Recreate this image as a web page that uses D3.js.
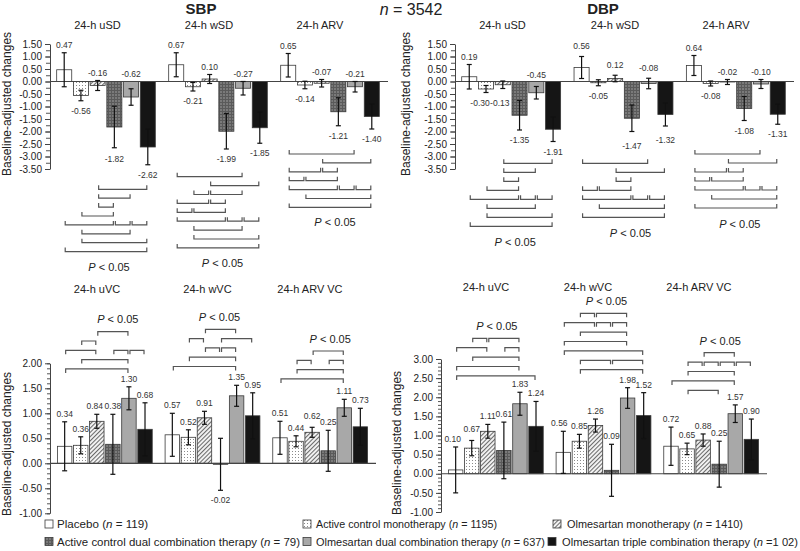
<!DOCTYPE html>
<html><head><meta charset="utf-8">
<script src="https://cdn.jsdelivr.net/npm/d3@7"></script>
<style>body{margin:0;background:#fff}svg{display:block;font-family:"Liberation Sans",Arial,sans-serif}</style>
</head><body>
<svg id="c" width="800" height="551"></svg>
<script>
// ---------------- DATA ----------------
const seriesNames = ["Placebo", "Active control monotherapy", "Olmesartan monotherapy",
  "Active control dual combination therapy", "Olmesartan dual combination therapy", "Olmesartan triple combination therapy"];
const seriesNText = [" = 119)", " = 1195)", " = 1410)", " = 79)", " = 637)", " =1 02)"];

const sdGroups = ["24-h uSD", "24-h wSD", "24-h ARV"];
const vcGroups = ["24-h uVC", "24-h wVC", "24-h ARV VC"];

const sbpValues = [[0.47, -0.56, -0.16, -1.82, -0.62, -2.62],
                   [0.67, -0.21, 0.10, -1.99, -0.27, -1.85],
                   [0.65, -0.14, -0.07, -1.21, -0.21, -1.40]];
const sbpErrors = [[0.68, 0.21, 0.20, 0.83, 0.33, 0.71],
                   [0.48, 0.17, 0.18, 0.71, 0.27, 0.62],
                   [0.47, 0.15, 0.15, 0.56, 0.21, 0.50]];
const dbpValues = [[0.19, -0.30, -0.13, -1.35, -0.45, -1.91],
                   [0.56, -0.05, 0.12, -1.47, -0.08, -1.32],
                   [0.64, -0.08, -0.02, -1.08, -0.10, -1.31]];
const dbpErrors = [[0.49, 0.14, 0.15, 0.59, 0.25, 0.49],
                   [0.44, 0.12, 0.13, 0.53, 0.21, 0.46],
                   [0.40, 0.10, 0.10, 0.48, 0.18, 0.40]];
const sbpVcValues = [[0.34, 0.36, 0.84, 0.38, 1.30, 0.68],
                     [0.57, 0.52, 0.91, -0.02, 1.35, 0.95],
                     [0.51, 0.44, 0.62, 0.25, 1.11, 0.73]];
const sbpVcErrors = [[0.49, 0.17, 0.14, 0.60, 0.23, 0.53],
                     [0.43, 0.15, 0.13, 0.52, 0.21, 0.46],
                     [0.33, 0.11, 0.10, 0.41, 0.17, 0.37]];
const dbpVcValues = [[0.10, 0.67, 1.11, 0.61, 1.83, 1.24],
                     [0.56, 0.85, 1.26, 0.09, 1.98, 1.52],
                     [0.72, 0.65, 0.88, 0.25, 1.57, 0.90]];
const dbpVcErrors = [[0.60, 0.20, 0.18, 0.74, 0.30, 0.65],
                     [0.55, 0.18, 0.17, 0.68, 0.27, 0.60],
                     [0.50, 0.15, 0.16, 0.60, 0.23, 0.53]];

const ticksSD = [1.5, 1, 0.5, 0, -0.5, -1, -1.5, -2, -2.5, -3, -3.5];
const ticksVcLeft = [2, 1.5, 1, 0.5, 0, -0.5, -1];
const ticksVcRight = [3, 2.5, 2, 1.5, 1, 0.5, 0, -0.5, -1];

// significance brackets: per group, rows (top to bottom) of [barA, barB] pairs
const sbpBrackets = [
  [[[2,5]], [[2,4]], [[2,3]], [[1,3]], [[0,3],[3,4],[4,5]], [[1,4]], [[1,5]], [[0,5]]],
  [[[0,4]], [[2,5]], [[1,2],[2,4]], [[0,2],[2,3]], [[0,1],[1,3]], [[0,3],[3,4],[4,5]], [[1,4]], [[1,5]], [[0,5]]],
  [[[0,4]], [[2,5]], [[0,2],[2,3]], [[0,1],[1,3]], [[0,3],[3,4],[4,5]], [[1,5]], [[0,5]]]
];
const dbpBrackets = [
  [[[2,5]], [[2,4]], [[2,3]], [[1,3]], [[0,3],[3,4],[4,5]], [[1,4]], [[1,5]], [[0,5]]],
  [[[0,4]], [[2,5]], [[2,3]], [[0,1],[1,3]], [[0,3],[3,4],[4,5]], [[1,5]], [[0,5]]],
  [[[0,4]], [[2,5]], [[0,2],[2,3]], [[0,1],[1,3]], [[0,3],[3,4],[4,5]], [[1,5]], [[0,5]]]
];
const sbpVcBrackets = [
  [[[2,4]], [[1,2]], [[0,2],[3,4],[4,5]], [[1,4]], [[0,4]]],
  [[[2,4]], [[1,2],[3,5]], [[2,3],[3,4]], [[1,4]], [[0,4]]],
  [[[2,4]], [[1,2],[3,4]], [[1,4]], [[0,4]]]
];
const dbpVcBrackets = [
  [[[1,2],[2,4]], [[0,2],[3,4]], [[1,4]], [[0,4]], [[0,5]]],
  [[[1,2],[2,4]], [[0,2],[2,3],[3,4]], [[1,4]], [[0,4]], [[0,5]], [[1,3],[3,5]], [[1,5]]],
  [[[2,4]], [[1,2],[2,3],[3,4],[4,5]], [[1,4]], [[0,4]], [[1,3]]]
];

// ---------------- LAYOUT ----------------
const svg = d3.select("#c");
const defs = svg.append("defs");
{
  const pd = defs.append("pattern").attr("id","pDots").attr("patternUnits","userSpaceOnUse").attr("width",3).attr("height",3);
  pd.append("rect").attr("width",3).attr("height",3).attr("fill","#fff");
  pd.append("rect").attr("x",1).attr("y",1).attr("width",1).attr("height",1).attr("fill","#8a8a8a");
  const ph = defs.append("pattern").attr("id","pHatch").attr("patternUnits","userSpaceOnUse").attr("width",3).attr("height",3).attr("patternTransform","rotate(45)");
  ph.append("rect").attr("width",3).attr("height",3).attr("fill","#f4f4f4");
  ph.append("line").attr("x1",0.5).attr("y1",0).attr("x2",0.5).attr("y2",3).attr("stroke","#6a6a6a").attr("stroke-width",1.1);
  const pg = defs.append("pattern").attr("id","pGrid").attr("patternUnits","userSpaceOnUse").attr("width",3).attr("height",3);
  pg.append("rect").attr("width",3).attr("height",3).attr("fill","#7a7a7a");
  pg.append("line").attr("x1",0).attr("y1",0.5).attr("x2",3).attr("y2",0.5).attr("stroke","#5a5a5a").attr("stroke-width",1);
  pg.append("line").attr("x1",0.5).attr("y1",0).attr("x2",0.5).attr("y2",3).attr("stroke","#5a5a5a").attr("stroke-width",1);
}
const fills = ["#ffffff", "url(#pDots)", "url(#pHatch)", "url(#pGrid)", "#a8a8a8", "#151515"];

const panels = [
  { groups: sdGroups, values: sbpValues, errors: sbpErrors, brackets: sbpBrackets, ticks: ticksSD,
    yDomain: [-3.5, 1.5], yRange: [169, 44], xRange: [50, 386], axisX: 50, minorStep: 0.25, minorLen: 4,
    bStart: [189.3, 176.7, 154], rowStep: 8.9, tick: -4, pDy: 19, pDx: [3, 4.5, 5],
    subDx: [-8.5, -9, -10], subY: 29, yTitleX: 11, yTitleY: 104,
    place: [["a","b","a","b","a","b"],["a","b","a","b","a","b"],["a","b","a","b","a","b"]],
    nudge: {"0-3": [0, 1.5], "0-4": [0, -7]} },
  { groups: sdGroups, values: dbpValues, errors: dbpErrors, brackets: dbpBrackets, ticks: ticksSD,
    yDomain: [-3.5, 1.5], yRange: [169, 44], xRange: [455, 792], axisX: 455, minorStep: 0.25, minorLen: 4,
    bStart: [163.3, 163.3, 154], rowStep: 9, tick: -4, pDy: 20, pDx: [4, 7, 4],
    subDx: [-8.7, -8.5, -9.8], subY: 29, yTitleX: 410, yTitleY: 104,
    place: [["a","b","b","b","a","b"],["a","b","a","b","a","b"],["a","b","a","b","a","b"]],
    nudge: {"0-1": [-6, 0.5], "0-2": [-3, 4.5], "0-4": [0, -3.8], "1-0": [0, -3], "1-2": [0, -2.5], "1-3": [0, 4], "1-4": [0, -2], "1-5": [0, 3.7]} },
  { groups: vcGroups, values: sbpVcValues, errors: sbpVcErrors, brackets: sbpVcBrackets, ticks: ticksVcLeft,
    yDomain: [-1, 2], yRange: [513.3, 363.3], xRange: [51, 374], axisX: 50, minorStep: 0.1, minorLen: 3,
    bStart: [331.7, 329.3, 351], rowStep: 9.3, tick: 4, pDy: -8.3, pDx: [13, 7, 10],
    subDx: [-7.8, -5, -10.2], subY: 292.5, yTitleX: 11, yTitleY: 444,
    place: [["a","a","a","a","a","a"],["a","a","a","b","a","a"],["a","a","a","a","a","a"]],
    nudge: {"0-2": [-2, 0], "2-2": [0, -3]} },
  { groups: vcGroups, values: dbpVcValues, errors: dbpVcErrors, brackets: dbpVcBrackets, ticks: ticksVcRight,
    yDomain: [-1, 3], yRange: [512, 359], xRange: [442, 765], axisX: 441, minorStep: 0.1, minorLen: 3,
    bStart: [338.3, 313.3, 352.7], rowStep: 9.4, tick: 4, pDy: -8, pDx: [1, 3, 9],
    subDx: [-9.8, -15.5, -12.2], subY: 290.5, yTitleX: 401, yTitleY: 443,
    place: [["a","a","a","a","a","a"],["a","a","a","a","a","a"],["a","a","a","a","a","a"]],
    nudge: {"0-0": [-3, 0], "0-1": [0, -3], "1-0": [-4, 0]} }
];

function drawPanel(p) {
  const g = svg.append("g");
  const y = d3.scaleLinear().domain(p.yDomain).range(p.yRange);
  const x0 = d3.scaleBand().domain(p.groups).range(p.xRange).padding(0);
  const x1 = d3.scaleBand().domain(d3.range(6)).range([0, x0.bandwidth()]).paddingInner(0.1).paddingOuter(0.4);
  const bw = x1.bandwidth();
  const recs = [];
  p.groups.forEach((grp, gi) => p.values[gi].forEach((v, si) =>
    recs.push({ grp, gi, si, v, e: p.errors[gi][si], x: x0(grp) + x1(si), cx: x0(grp) + x1(si) + bw / 2 })));

  // minor ticks
  const minorVals = d3.range(p.yDomain[0], p.yDomain[1] + 1e-9, p.minorStep);
  const mg = g.append("g").attr("transform", `translate(${p.axisX},0)`)
    .call(d3.axisLeft(y).tickValues(minorVals).tickSize(p.minorLen).tickSizeOuter(0).tickFormat(""));
  mg.select(".domain").remove();
  mg.selectAll("line").attr("stroke", "#555");
  // major axis
  const ax = g.append("g").attr("transform", `translate(${p.axisX},0)`)
    .call(d3.axisLeft(y).tickValues(p.ticks).tickSize(5).tickSizeOuter(0).tickPadding(3).tickFormat(d => d.toFixed(2)));
  ax.select(".domain").attr("stroke", "#444").attr("stroke-width", 1);
  ax.selectAll("line").attr("stroke", "#444");
  ax.selectAll("text").attr("font-size", 10).attr("fill", "#222").attr("font-family", "Liberation Sans, Arial, sans-serif");

  // bars
  g.selectAll("rect.bar").data(recs).join("rect").attr("class", "bar")
    .attr("x", d => d.x).attr("width", bw)
    .attr("y", d => y(Math.max(0, d.v))).attr("height", d => Math.abs(y(d.v) - y(0)))
    .attr("fill", d => fills[d.si]).attr("stroke", "#3a3a3a").attr("stroke-width", 0.8);

  // zero line
  g.append("line").attr("x1", p.axisX).attr("x2", p.xRange[1] + 2).attr("y1", y(0)).attr("y2", y(0))
    .attr("stroke", "#444").attr("stroke-width", 1.2);

  // error bars
  const eb = g.selectAll("g.err").data(recs).join("g").attr("class", "err")
    .attr("stroke", "#111").attr("stroke-width", 1.2);
  eb.append("line").attr("x1", d => d.cx).attr("x2", d => d.cx).attr("y1", d => y(d.v - d.e)).attr("y2", d => y(d.v + d.e));
  eb.append("line").attr("x1", d => d.cx - 2.5).attr("x2", d => d.cx + 2.5).attr("y1", d => y(d.v - d.e)).attr("y2", d => y(d.v - d.e));
  eb.append("line").attr("x1", d => d.cx - 2.5).attr("x2", d => d.cx + 2.5).attr("y1", d => y(d.v + d.e)).attr("y2", d => y(d.v + d.e));

  // value labels
  g.selectAll("text.val").data(recs).join("text").attr("class", "val")
    .attr("text-anchor", "middle").attr("font-size", 8.5).attr("fill", "#333")
    .attr("x", d => d.cx + ((p.nudge[d.gi + "-" + d.si] || [0, 0])[0]))
    .attr("y", d => {
      const n = (p.nudge[d.gi + "-" + d.si] || [0, 0])[1];
      return (p.place[d.gi][d.si] === "a" ? y(d.v + d.e) - 5 : y(d.v - d.e) + 13) + n;
    })
    .text(d => d.v.toFixed(2));

  // brackets
  p.brackets.forEach((rows, gi) => {
    const gx = x0(p.groups[gi]);
    rows.forEach((row, ri) => {
      const yy = p.bStart[gi] + ri * p.rowStep;
      row.forEach(([a, b]) => {
        const xa = gx + x1(a) + bw / 2 + 1, xb = gx + x1(b) + bw / 2 - 1;
        g.append("path").attr("d", `M${xa},${yy + p.tick}V${yy}H${xb}V${yy + p.tick}`)
          .attr("fill", "none").attr("stroke", "#555").attr("stroke-width", 1.2);
      });
    });
    const py = p.tick < 0 ? p.bStart[gi] + (rows.length - 1) * p.rowStep + p.pDy : p.bStart[gi] + p.pDy;
    const pt = g.append("text").attr("x", gx + x0.bandwidth() / 2 + p.pDx[gi]).attr("y", py)
      .attr("text-anchor", "middle").attr("font-size", 11).attr("fill", "#222");
    pt.append("tspan").attr("font-style", "italic").text("P");
    pt.append("tspan").text(" < 0.05");
  });

  // group subtitles
  p.groups.forEach((grp, gi) => {
    g.append("text").attr("x", x0(grp) + x0.bandwidth() / 2 + p.subDx[gi]).attr("y", p.subY)
      .attr("text-anchor", "middle").attr("font-size", 11).attr("fill", "#222").text(grp);
  });

  // y title
  g.append("text").attr("transform", `translate(${p.yTitleX},${p.yTitleY}) rotate(-90)`)
    .attr("text-anchor", "middle").attr("font-size", 12).attr("fill", "#222").text("Baseline-adjusted changes");
}
panels.forEach(drawPanel);

// titles
svg.append("text").attr("x", 201).attr("y", 13.5).attr("text-anchor", "middle").attr("font-size", 15)
  .attr("font-weight", "bold").attr("fill", "#222").text("SBP");
svg.append("text").attr("x", 603).attr("y", 13.5).attr("text-anchor", "middle").attr("font-size", 15)
  .attr("font-weight", "bold").attr("fill", "#222").text("DBP");
{
  const t = svg.append("text").attr("x", 411).attr("y", 15).attr("text-anchor", "middle").attr("font-size", 16).attr("fill", "#222");
  t.append("tspan").attr("font-style", "italic").text("n");
  t.append("tspan").text(" = 3542");
}

// legend
const legendPos = [[45, 57, 528], [303, 316, 528], [553, 567, 528], [45, 57, 545.5], [303, 316, 545.5], [548, 562, 545.5]];
const legendWidth = [null, 181, 176, 243, 229, 236];
const lg = svg.append("g");
seriesNames.forEach((name, i) => {
  const [bx, tx, ty] = legendPos[i];
  lg.append("rect").attr("x", bx).attr("y", ty - 8).attr("width", 8).attr("height", 8)
    .attr("fill", fills[i]).attr("stroke", "#3a3a3a").attr("stroke-width", 0.8);
  const t = lg.append("text").attr("x", tx).attr("y", ty).attr("font-size", 10).attr("fill", "#222");
  t.append("tspan").text(name + " (");
  t.append("tspan").attr("font-style", "italic").text("n");
  t.append("tspan").text(seriesNText[i]);
  const nat = t.node().getComputedTextLength();
  const w = legendWidth[i] || nat * 1.16;
  t.attr("textLength", w).attr("lengthAdjust", "spacingAndGlyphs");
});
</script>
</body></html>
